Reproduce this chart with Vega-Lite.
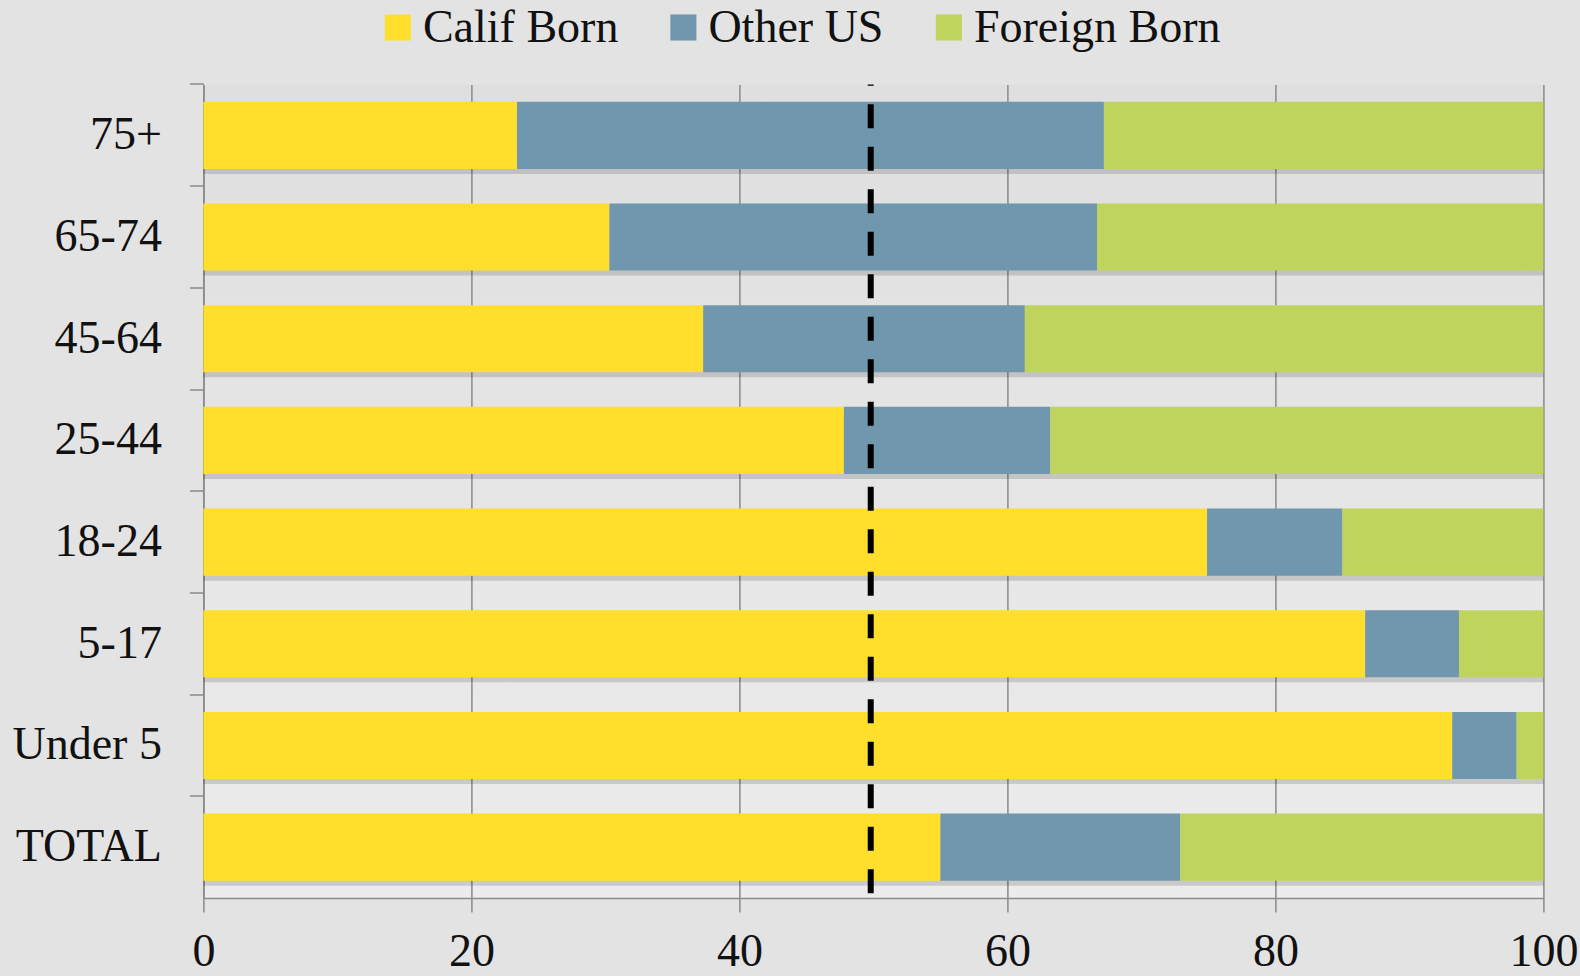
{
  "$schema": "https://vega.github.io/schema/vega-lite/v6.json",
  "autosize": {"type": "none"},
  "width": 1340,
  "height": 813.5,
  "padding": {"left": 203.4, "top": 84.5, "right": 36.6, "bottom": 78},
  "background": "#e3e3e3",
  "datasets": {
    "shares": [
      {"age": "75+", "origin": "Calif Born", "value": 23.4},
      {"age": "75+", "origin": "Other US", "value": 43.8},
      {"age": "75+", "origin": "Foreign Born", "value": 32.8},
      {"age": "65-74", "origin": "Calif Born", "value": 30.3},
      {"age": "65-74", "origin": "Other US", "value": 36.4},
      {"age": "65-74", "origin": "Foreign Born", "value": 33.3},
      {"age": "45-64", "origin": "Calif Born", "value": 37.3},
      {"age": "45-64", "origin": "Other US", "value": 24.0},
      {"age": "45-64", "origin": "Foreign Born", "value": 38.7},
      {"age": "25-44", "origin": "Calif Born", "value": 47.8},
      {"age": "25-44", "origin": "Other US", "value": 15.4},
      {"age": "25-44", "origin": "Foreign Born", "value": 36.8},
      {"age": "18-24", "origin": "Calif Born", "value": 74.9},
      {"age": "18-24", "origin": "Other US", "value": 10.1},
      {"age": "18-24", "origin": "Foreign Born", "value": 15.0},
      {"age": "5-17", "origin": "Calif Born", "value": 86.7},
      {"age": "5-17", "origin": "Other US", "value": 7.0},
      {"age": "5-17", "origin": "Foreign Born", "value": 6.3},
      {"age": "Under 5", "origin": "Calif Born", "value": 93.2},
      {"age": "Under 5", "origin": "Other US", "value": 4.8},
      {"age": "Under 5", "origin": "Foreign Born", "value": 2.0},
      {"age": "TOTAL", "origin": "Calif Born", "value": 55.0},
      {"age": "TOTAL", "origin": "Other US", "value": 17.9},
      {"age": "TOTAL", "origin": "Foreign Born", "value": 27.1}
    ],
    "reference": [{"ref": 49.8}]
  },
  "layer": [
    {
      "data": {"name": "shares"},
      "mark": {"type": "bar", "fill": "#000000", "opacity": 0.14, "yOffset": 5},
      "encoding": {
        "y": {
          "field": "age",
          "type": "nominal",
          "sort": ["75+", "65-74", "45-64", "25-44", "18-24", "5-17", "Under 5", "TOTAL"]
        },
        "x": {"aggregate": "sum", "field": "value", "type": "quantitative"}
      }
    },
    {
      "data": {"name": "shares"},
      "transform": [
        {"calculate": "indexof(['Calif Born', 'Other US', 'Foreign Born'], datum.origin)", "as": "stackRank"}
      ],
      "mark": {"type": "bar", "opacity": 1},
      "encoding": {
        "y": {
          "field": "age",
          "type": "nominal",
          "sort": ["75+", "65-74", "45-64", "25-44", "18-24", "5-17", "Under 5", "TOTAL"],
          "scale": {"paddingInner": 0.34, "paddingOuter": 0.17},
          "axis": {"title": null, "bandPosition": -0.2576}
        },
        "x": {
          "field": "value",
          "type": "quantitative",
          "stack": "zero",
          "scale": {"domain": [0, 100], "nice": false},
          "axis": {"title": null, "values": [0, 20, 40, 60, 80, 100]}
        },
        "order": {"field": "stackRank", "type": "quantitative", "sort": "ascending"},
        "color": {
          "field": "origin",
          "type": "nominal",
          "sort": ["Calif Born", "Other US", "Foreign Born"],
          "scale": {
            "domain": ["Calif Born", "Other US", "Foreign Born"],
            "range": ["#FFDF2B", "#7097AD", "#BED45C"]
          },
          "legend": {
            "orient": "none",
            "legendX": 171.5,
            "legendY": -80,
            "direction": "horizontal",
            "title": null,
            "symbolType": "square",
            "symbolSize": 680,
            "symbolStrokeWidth": 0,
            "symbolOpacity": 1,
            "labelFontSize": 46,
            "labelFont": "Liberation Serif",
            "labelColor": "#111111",
            "labelOffset": 2,
            "labelLimit": 0,
            "columnPadding": 41.5,
            "padding": 0
          }
        }
      }
    },
    {
      "data": {"name": "reference"},
      "mark": {"type": "rule", "color": "#000000", "strokeWidth": 6, "strokeDash": [24, 18.5], "strokeDashOffset": 22.8},
      "encoding": {
        "x": {"field": "ref", "type": "quantitative"}
      }
    }
  ],
  "config": {
    "view": {
      "stroke": null,
      "fill": {
        "gradient": "linear", "x1": 0, "y1": 0, "x2": 0, "y2": 1,
        "stops": [{"offset": 0, "color": "#dfdfdf"}, {"offset": 1, "color": "#ececec"}]
      }
    },
    "axis": {
      "labelFont": "Liberation Serif",
      "labelFontSize": 46,
      "labelColor": "#111111",
      "domainColor": "#8a8a8a",
      "domainWidth": 1.5,
      "tickColor": "#8a8a8a",
      "tickWidth": 1.5,
      "tickSize": 14,
      "labelLimit": 400,
      "labelOverlap": false,
      "labelBound": false
    },
    "axisX": {
      "grid": true,
      "gridColor": "#8a8a8a",
      "gridWidth": 1.5,
      "gridOpacity": 1,
      "labelPadding": 17,
      "labelFlush": false
    },
    "axisY": {
      "grid": false,
      "labelPadding": 28
    }
  }
}
